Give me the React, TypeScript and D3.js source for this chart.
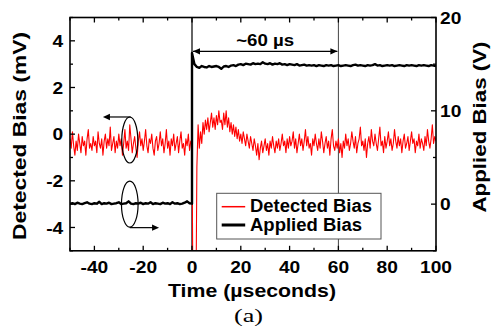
import React from "react";
import * as d3 from "d3";

const W = 495;
const H = 327;

const xTicks = [-40, -20, 0, 20, 40, 60, 80, 100];
const xMinor = [-50, -30, -10, 10, 30, 50, 70, 90];
const yLTicks = [-4, -2, 0, 2, 4];
const yLMinor = [-5, -3, -1, 1, 3, 5];
const yRTicks = [0, 10, 20];
const yRMinor = [-5, 5, 15];

// Detected bias (mV), t = -50 .. 0 in 0.5 us steps
const detectedPre = [
  -0.2, -0.6, 0.1, -0.5, -0.9, -0.3, -0.7, 0.0, -0.4, -0.8,
  -0.1, -0.5, -0.3, -0.9, -0.2, 0.2, -0.6, -0.4, -0.7, -0.1,
  -0.5, -0.3, -0.8, 0.1, -0.4, -0.6, -0.2, -0.9, -0.3, 0.0,
  -0.6, -0.2, -0.5, 0.3, -0.7, -0.4, -0.1, -0.8, -0.3, -0.6,
  0.0, -0.5, -0.2, -0.9, -0.4, 0.2, -0.6, -0.3, -0.7, 0.4,
  -0.2, -0.8, -0.4, -0.1, -0.6, -1.0, -0.3, 0.1, -0.5, -0.2,
  -0.7, -0.3, 0.2, -0.5, -0.8, -0.2, -0.4, 0.0, -0.6, -0.9,
  -0.3, -0.1, -0.7, -0.4, 0.1, -0.5, -0.2, -0.8, -0.4, 0.2,
  -0.6, -0.3, -0.9, -0.2, -0.5, 0.0, -0.7, -0.4, -0.1, -0.8,
  -0.3, 0.1, -0.6, -0.4, -0.9, -0.2, -0.5, 0.0, -0.7, -0.3,
  -0.4,
];
// Detected bias (mV), t = 0.5 .. 100 in 0.5 us steps
const detectedPost = [
  -9, -9, -9, -1.4, 0.4, -0.6, 0.1, -0.4, 0.5,
  0.0, 0.6, 0.2, 0.7, 0.1, 0.5, 0.9, 0.3, 0.7, 0.2,
  0.8, 0.4, 1.0, 0.5, 0.6, 0.2, 0.9, 0.4, 1.0, 0.3,
  0.7, 0.1, 0.5, 0.0, 0.4, -0.1, 0.3, -0.2, 0.2, -0.3,
  0.0, -0.4, 0.1, -0.2, -0.5, 0.0, -0.3, -0.6, -0.1, -0.4,
  -0.7, -0.2, -0.5, -0.9, -0.4, -1.1, -0.6, -0.3, -0.8, -0.5,
  -0.2, -0.7, -0.4, -0.9, -0.3, -0.6, -0.1, -0.5, -0.8, -0.3,
  -0.6, -0.2, -0.7, -0.4, 0.0, -0.5, -0.3, -0.8, -0.2, -0.6,
  -0.1, -0.5, -0.3, 0.1, -0.6, -0.2, -0.8, -0.4, 0.0, -0.5,
  -0.2, -0.7, -0.3, 0.2, -0.5, -0.1, -0.6, -0.4, -0.9, -0.2,
  -0.5, 0.0, -0.4, -0.7, -0.2, -0.6, 0.1, -0.3, -0.8, -0.4,
  -0.1, -0.6, -0.3, -0.9, -0.2, 0.2, -0.5, -0.7, -0.3, -0.6,
  -0.2, -0.8, -0.4, -1.0, -0.3, -0.6, 0.0, -0.5, -0.2, -0.7,
  -0.4, 0.1, -0.3, -0.6, -0.1, -0.8, -0.4, -0.2, 0.3, -0.5,
  -0.3, -0.7, -0.2, -1.0, -0.4, -0.1, -0.6, 0.2, -0.3, -0.5,
  0.0, -0.4, -0.7, -0.2, 0.3, -0.5, -0.3, -0.8, -0.1, -0.6,
  -0.3, 0.1, -0.5, -0.2, -0.7, -0.4, 0.2, -0.3, -0.6, -0.1,
  -0.5, -0.2, -0.8, -0.3, 0.0, -0.6, -0.4, -0.1, -0.7, -0.3,
  0.1, -0.4, -0.2, -0.8, -0.3, -0.5, 0.0, -0.6, -0.2, -0.4,
  -0.7, -0.1, -0.5, 0.2, -0.3, -0.6, -0.2, 0.4, -0.4, -0.1,
  -0.3,
];

// Applied bias (V), t = -50 .. 0 in 1 us steps
const appliedPre = [
  0.05, 0.1, 0.0, 0.15, 0.05, 0.0, 0.1, 0.2, 0.05, 0.0,
  0.1, 0.05, 0.25, 0.0, 0.1, 0.05, 0.15, 0.0, 0.05, 0.1,
  0.2, 0.0, 0.05, 0.1, 0.3, 0.05, 0.0, 0.1, 0.05, 0.15,
  0.0, 0.1, 0.05, 0.2, 0.0, 0.1, 0.05, 0.0, 0.15, 0.05,
  0.1, 0.0, 0.2, 0.05, 0.1, 0.0, 0.05, 0.15, 0.3, 0.1,
  0.05,
];
// Applied bias (V), t = 0 .. 100 in 1 us steps
const appliedPost = [
  16.2, 15.0, 14.7, 14.6, 14.8, 14.7, 14.65, 14.8, 14.7, 14.75,
  14.8, 14.7, 14.5, 14.75, 14.8, 14.7, 14.85, 14.9, 14.8, 14.95,
  15.0, 14.9, 15.05, 15.0, 14.95, 15.1, 15.0, 15.05, 15.0, 15.2,
  15.05, 15.0, 15.1, 14.95, 15.05, 15.0, 15.1, 14.95, 15.0, 14.9,
  15.0, 14.95, 14.9, 15.0, 14.85, 14.9, 14.95, 14.85, 14.9, 14.85,
  14.9, 14.8, 14.9, 14.85, 14.8, 14.9, 14.85, 14.9, 14.8, 14.85,
  14.9, 14.8, 14.85, 14.9, 14.85, 14.8, 14.9, 14.95, 14.85, 14.9,
  14.85, 14.8, 14.9, 14.85, 14.9, 15.0, 14.85, 14.9, 14.8, 14.85,
  14.9, 14.85, 14.9, 14.8, 14.85, 14.9, 14.85, 14.8, 14.9, 14.85,
  14.9, 14.85, 14.8, 14.9, 14.85, 14.9, 14.85, 14.8, 14.9, 14.85,
  14.8,
];

const legendLabels = ["Detected Bias", "Applied Bias"];
const FONT = "'Liberation Sans', Arial, Helvetica, sans-serif";

function T(props: {
  x: number; y: number; sx?: number; anchor?: string; size: number;
  children?: React.ReactNode; weight?: string; family?: string; rotate?: number; len?: number;
}) {
  const { x, y, sx = 1, anchor = "start", size, weight = "bold", family = FONT, rotate = 0, len, children } = props;
  return (
    <text
      transform={`translate(${x},${y}) rotate(${rotate}) scale(${sx},1)`}
      textAnchor={anchor}
      fontSize={size}
      fontWeight={weight}
      fontFamily={family}
      fill="#000"
      textLength={len}
      lengthAdjust={len ? "spacingAndGlyphs" : undefined}
    >
      {children}
    </text>
  );
}

export default function App() {
  const left = 70, right = 436, top = 17.5, bottom = 250.8;
  const x = d3.scaleLinear().domain([-50, 100]).range([left, right]);
  const yL = d3.scaleLinear().domain([-5, 5]).range([bottom, top]);
  const yR = d3.scaleLinear().domain([-5, 20]).range([bottom, top]);

  const detected: [number, number][] = [
    ...detectedPre.map((v, i) => [-(detectedPre.length - 1 - i) * 0.5, v] as [number, number]),
    ...detectedPost.map((v, i) => [(i + 1) * 0.5, v] as [number, number]),
  ];
  const applied: [number, number][] = [
    ...appliedPre.map((v, i) => [-(appliedPre.length - 1 - i), v] as [number, number]),
    ...appliedPost.map((v, i) => [i, v] as [number, number]),
  ].filter((d) => d[0] <= 100);

  const lineL = d3.line<[number, number]>().x((d) => x(d[0])).y((d) => yL(d[1]));
  const lineR = d3.line<[number, number]>().x((d) => x(d[0])).y((d) => yR(d[1]));

  const tickMajor = 5, tickMinor = 3;
  const sx = 1.13;

  const e1 = { t: -25.5, v: -0.25 };
  const e2 = { t: -25.5, v: 0 };
  const arrowY = 3.55;

  const arrowHead = (px: number, py: number, dir: number) =>
    `M${px},${py} L${px - dir * 7},${py - 3.2} L${px - dir * 7},${py + 3.2} Z`;

  const lgX = 216.7, lgY = 193.3, lgW = 164.3, lgH = 45.7;

  return (
    <svg width={W} height={H} style={{ position: "absolute", left: 0, top: 0, background: "#fff" }}>
      <defs>
        <clipPath id="plotclip">
          <rect x={left} y={top} width={right - left} height={bottom - top} />
        </clipPath>
      </defs>
      <rect x={0} y={0} width={W} height={H} fill="#fff" />

      <line x1={x(0)} x2={x(0)} y1={top} y2={bottom} stroke="#111" strokeWidth={1.3} />
      <line x1={x(60)} x2={x(60)} y1={top} y2={bottom} stroke="#444" strokeWidth={1} />

      <g clipPath="url(#plotclip)">
        <path d={lineL(detected) || ""} fill="none" stroke="#ff0000" strokeWidth={1.1} strokeLinejoin="round" />
        <path d={lineR(applied) || ""} fill="none" stroke="#000" strokeWidth={2.4} strokeLinejoin="round" />
      </g>

      <line x1={x(0) + 1} x2={x(60) - 1} y1={yL(arrowY)} y2={yL(arrowY)} stroke="#000" strokeWidth={1.3} />
      <path d={arrowHead(x(0) + 1, yL(arrowY), -1)} fill="#000" />
      <path d={arrowHead(x(60) - 1, yL(arrowY), 1)} fill="#000" />
      <T x={x(30)} y={yL(arrowY) - 5} anchor="middle" size={16.5} len={58}>~60 µs</T>

      <ellipse cx={x(e1.t)} cy={yL(e1.v)} rx={8} ry={23} fill="none" stroke="#000" strokeWidth={1.2} />
      <line x1={x(e1.t) + 1} x2={x(-35.2)} y1={yL(e1.v) - 23} y2={yL(e1.v) - 23} stroke="#000" strokeWidth={1.2} />
      <path d={arrowHead(x(-36.5), yL(e1.v) - 23, -1)} fill="#000" />

      <ellipse cx={x(e2.t)} cy={yR(e2.v)} rx={8.3} ry={23} fill="none" stroke="#000" strokeWidth={1.2} />
      <line x1={x(e2.t)} x2={x(-15)} y1={yR(e2.v) + 23.5} y2={yR(e2.v) + 23.5} stroke="#000" strokeWidth={1.2} />
      <path d={arrowHead(x(-13.5), yR(e2.v) + 23.5, 1)} fill="#000" />

      <rect x={lgX} y={lgY} width={lgW} height={lgH} fill="#fff" stroke="#555" strokeWidth={1} />
      <line x1={lgX + 5} x2={lgX + 28.5} y1={lgY + 13.4} y2={lgY + 13.4} stroke="#ff0000" strokeWidth={1.5} />
      <line x1={lgX + 5} x2={lgX + 28.5} y1={lgY + 31.7} y2={lgY + 31.7} stroke="#000" strokeWidth={3} />
      <T x={lgX + 33.3} y={lgY + 18.4} size={18} len={122}>{legendLabels[0]}</T>
      <T x={lgX + 33.3} y={lgY + 37.7} size={18} len={112}>{legendLabels[1]}</T>

      <rect x={left} y={top} width={right - left} height={bottom - top} fill="none" stroke="#000" strokeWidth={1.6} />

      {xTicks.map((t) => (
        <g key={"xt" + t}>
          <line x1={x(t)} x2={x(t)} y1={bottom} y2={bottom - tickMajor} stroke="#000" strokeWidth={1.3} />
          <line x1={x(t)} x2={x(t)} y1={top} y2={top + tickMajor} stroke="#000" strokeWidth={1.3} />
          <T x={x(t)} y={272.5} anchor="middle" size={17} sx={sx}>{String(t)}</T>
        </g>
      ))}
      {xMinor.map((t) => (
        <g key={"xm" + t}>
          <line x1={x(t)} x2={x(t)} y1={bottom} y2={bottom - tickMinor} stroke="#000" strokeWidth={1.3} />
          <line x1={x(t)} x2={x(t)} y1={top} y2={top + tickMinor} stroke="#000" strokeWidth={1.3} />
        </g>
      ))}

      {yLTicks.map((v) => (
        <g key={"yl" + v}>
          <line x1={left} x2={left + tickMajor} y1={yL(v)} y2={yL(v)} stroke="#000" strokeWidth={1.3} />
          <T x={63.3} y={yL(v) + 6.3} anchor="end" size={17} sx={sx}>{String(v)}</T>
        </g>
      ))}
      {yLMinor.map((v) => (
        <line key={"ylm" + v} x1={left} x2={left + tickMinor} y1={yL(v)} y2={yL(v)} stroke="#000" strokeWidth={1.3} />
      ))}

      {yRTicks.map((v) => (
        <g key={"yr" + v}>
          <line x1={right} x2={right - tickMajor} y1={yR(v)} y2={yR(v)} stroke="#000" strokeWidth={1.3} />
          <T x={440} y={yR(v) + 6.3} anchor="start" size={17} sx={sx}>{String(v)}</T>
        </g>
      ))}
      {yRMinor.map((v) => (
        <line key={"yrm" + v} x1={right} x2={right - tickMinor} y1={yR(v)} y2={yR(v)} stroke="#000" strokeWidth={1.3} />
      ))}

      <T x={252} y={296.5} anchor="middle" size={18.6} len={168}>Time (µseconds)</T>
      <T x={26.3} y={136} anchor="middle" size={18.5} rotate={-90} len={208}>Detected Bias (mV)</T>
      <T x={486} y={127} anchor="middle" size={18.5} rotate={-90} len={171}>Applied Bias (V)</T>
      <T x={248.5} y={322} anchor="middle" size={18} weight="normal" family="'Liberation Serif', 'Times New Roman', serif" len={29}>(a)</T>
    </svg>
  );
}
